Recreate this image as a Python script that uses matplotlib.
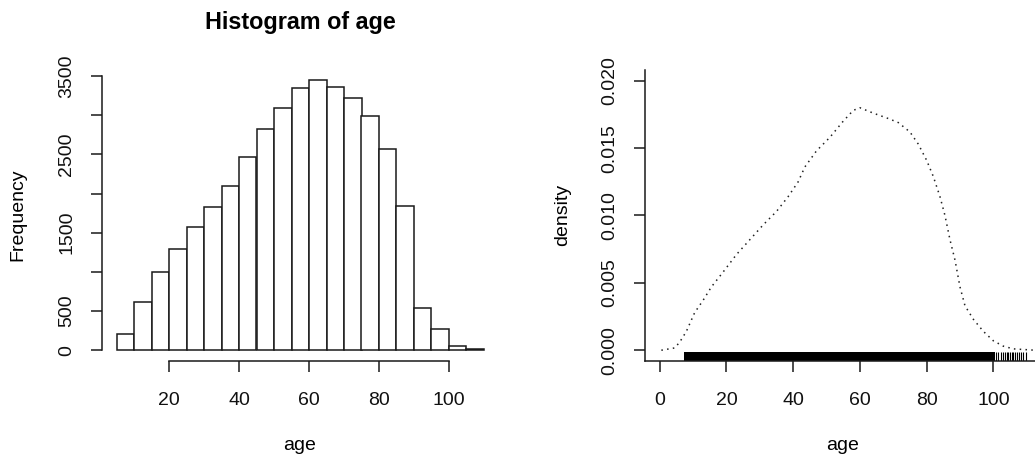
import matplotlib
matplotlib.use("Agg")
import matplotlib.pyplot as plt

plt.rcParams['font.family'] = ['Liberation Sans', 'DejaVu Sans']

# histogram of age: 5-year bins from 5 to 110
bin_left = [5, 10, 15, 20, 25, 30, 35, 40, 45, 50, 55, 60, 65, 70, 75, 80, 85, 90, 95, 100, 105]
counts = [208, 616, 998, 1291, 1568, 1827, 2094, 2468, 2821, 3093, 3352, 3445,
          3356, 3224, 2991, 2566, 1839, 544, 268, 55, 17]
hist_yticks = [0, 500, 1000, 1500, 2000, 2500, 3000, 3500]
hist_ylabels = ['0', '500', '', '1500', '', '2500', '', '3500']
hist_xticks = [20, 40, 60, 80, 100]

# kernel density estimate of age
dens_x = [0.5, 4.5, 6, 8, 10.5, 13, 15.5, 19, 23, 27, 31, 35, 38.5, 41.5, 43.5, 47,
          51, 55, 58, 60, 64, 68.5, 71.5, 75, 77.5, 80, 82, 84, 85.5, 87, 88.5, 90,
          91.5, 94, 97, 100, 103, 106, 112.5]
dens_y = [0.0, 0.00017, 0.0006, 0.0014, 0.0028, 0.0037, 0.0047, 0.0058, 0.0071,
          0.0082, 0.0093, 0.0103, 0.0114, 0.0125, 0.0136, 0.0148, 0.0158, 0.0170,
          0.0178, 0.0180, 0.0176, 0.0172, 0.0169, 0.0162, 0.0153, 0.0141, 0.0129,
          0.0114, 0.0100, 0.0082, 0.0067, 0.0047, 0.0033, 0.0023, 0.0014, 0.0007,
          0.0003, 0.0001, 0.0]
# rug: observations are dense between these ages, sparse above
rug_dense = (7.3, 100.5)
rug_sparse = [100.8, 101.5, 102.2, 102.8, 103.5, 104, 104.5, 105, 105.5, 106, 106.5,
              107, 107.7, 108.2, 108.8, 109.8]
dens_yticks = [0.0, 0.005, 0.010, 0.015, 0.020]
dens_xticks = [0, 20, 40, 60, 80, 100]

W, H = 1035, 457
fig = plt.figure(figsize=(W / 100, H / 100), dpi=100)
fs = 14
edge = '#1a1a1a'

# ---- left: histogram ----
ax1 = fig.add_axes([101.8 / W, 1 - 361 / H, (498.7 - 101.8) / W, (361 - 69.5) / H])
ax1.bar(bin_left, counts, width=5, align='edge', facecolor='white', edgecolor=edge, linewidth=1.1)
ax1.set_xlim(0.8, 114.2)
ax1.set_ylim(-138, 3583)
ax1.spines['top'].set_visible(False)
ax1.spines['right'].set_visible(False)
ax1.spines['left'].set_bounds(0, 3500)
ax1.spines['bottom'].set_bounds(20, 100)
ax1.set_yticks(hist_yticks)
ax1.set_yticklabels(hist_ylabels, rotation=90, va='center')
ax1.set_xticks(hist_xticks)

# ---- right: density with rug ----
ax2 = fig.add_axes([645 / W, 1 - 361 / H, (1041.4 - 645) / W, (361 - 70) / H])
ax2.plot(dens_x, dens_y, color='#222222', linewidth=1.1, linestyle=(0, (1, 2.8)))
ax2.axvspan(rug_dense[0], rug_dense[1], ymin=0, ymax=0.03, color='black', linewidth=0)
ax2.vlines(rug_sparse, 0, 0.03, transform=ax2.get_xaxis_transform(), color='black', linewidth=0.8)
ax2.set_xlim(-4.4, 114.4)
ax2.set_ylim(-0.0008, 0.0208)
ax2.spines['top'].set_visible(False)
ax2.spines['right'].set_visible(False)
ax2.set_yticks(dens_yticks)
ax2.set_yticklabels(['%.3f' % v for v in dens_yticks], rotation=90, va='center')
ax2.set_xticks(dens_xticks)

for ax in (ax1, ax2):
    for sp in ax.spines.values():
        sp.set_color(edge)
        sp.set_linewidth(1.1)
    ax.tick_params(axis='both', length=8, width=1.1, color=edge, labelsize=fs, labelcolor='#111111')
    ax.tick_params(axis='x', pad=14)
    ax.tick_params(axis='y', pad=11)

# titles and axis labels
fig.text(300 / W, 1 - 22 / H, 'Histogram of age', ha='center', va='center',
         fontsize=16.8, fontweight='bold')
fig.text(300 / W, 1 - 445 / H, 'age', ha='center', va='center', fontsize=fs)
fig.text(18 / W, 1 - 215 / H, 'Frequency', ha='center', va='center', rotation=90, fontsize=fs)
fig.text(843 / W, 1 - 445 / H, 'age', ha='center', va='center', fontsize=fs)
fig.text(563 / W, 1 - 215 / H, 'density', ha='center', va='center', rotation=90, fontsize=fs)

fig.savefig('out.png', dpi=100)
